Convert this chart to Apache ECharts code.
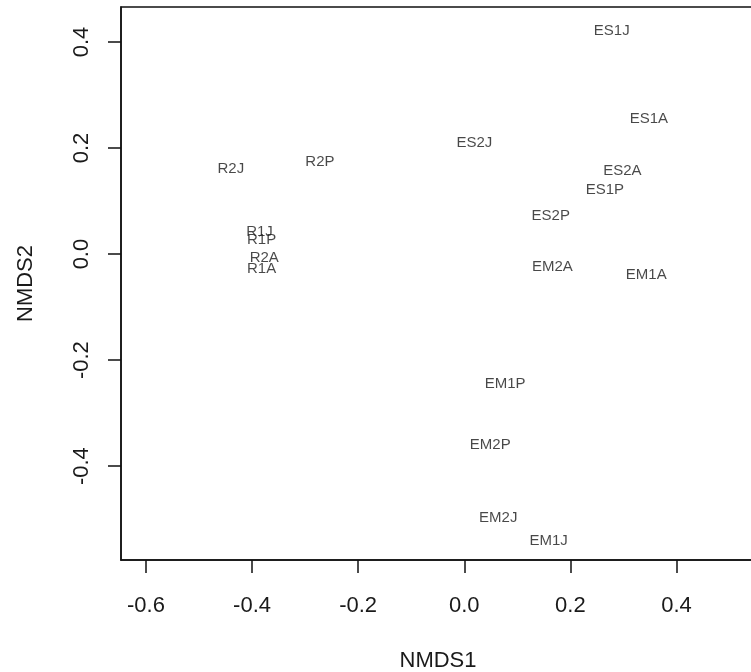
<!DOCTYPE html>
<html>
<head>
<meta charset="utf-8">
<script src="https://cdn.jsdelivr.net/npm/echarts@6/dist/echarts.min.js"></script>
<style>
  html, body { margin: 0; padding: 0; background: #fff; }
  #chart { width: 751px; height: 672px; }
</style>
</head>
<body>
<div id="chart"></div>
<script>
// site labels and their NMDS scores
const sites = ['ES1J', 'ES1A', 'ES2J', 'ES2A', 'ES1P', 'ES2P', 'EM2A', 'EM1A',
  'EM1P', 'EM2P', 'EM2J', 'EM1J', 'R2J', 'R2P', 'R1J', 'R1P', 'R2A', 'R1A'];
const nmds1 = [0.278, 0.348, 0.019, 0.298, 0.265, 0.163, 0.166, 0.343,
  0.077, 0.049, 0.064, 0.159, -0.440, -0.272, -0.386, -0.382, -0.377, -0.382];
const nmds2 = [0.421, 0.255, 0.210, 0.157, 0.121, 0.072, -0.024, -0.040,
  -0.244, -0.359, -0.498, -0.541, 0.160, 0.173, 0.041, 0.026, -0.007, -0.027];
const xTicks = [-0.6, -0.4, -0.2, 0.0, 0.2, 0.4];
const yTicks = [-0.4, -0.2, 0.0, 0.2, 0.4];

const points = sites.map((s, i) => [nmds1[i], nmds2[i], s]);

const chart = echarts.init(document.getElementById('chart'));
const font = 'Liberation Sans, Arial, sans-serif';
const ink = '#1a1a1a';

chart.setOption({
  animation: false,
  backgroundColor: '#fff',
  grid: {
    left: 121,
    top: 7,
    width: 634,
    height: 553,
    outerBoundsMode: 'none',
    show: true,
    borderColor: '#111',
    borderWidth: 1.5
  },
  xAxis: {
    type: 'value',
    min: -0.647,
    max: 0.548,
    name: 'NMDS1',
    nameLocation: 'middle',
    nameGap: 90,
    nameTextStyle: { fontFamily: font, fontSize: 22, color: ink },
    axisLine: { show: true, onZero: false, lineStyle: { color: '#111', width: 1.5 } },
    axisTick: { show: true, inside: false, length: 13, customValues: xTicks, lineStyle: { color: '#111', width: 1.5 } },
    axisLabel: {
      customValues: xTicks,
      margin: 35,
      fontFamily: font,
      fontSize: 22,
      color: ink,
      formatter: v => v.toFixed(1)
    },
    splitLine: { show: false }
  },
  yAxis: {
    type: 'value',
    min: -0.577,
    max: 0.466,
    name: 'NMDS2',
    nameLocation: 'middle',
    nameGap: 84,
    nameTextStyle: { fontFamily: font, fontSize: 22, color: ink },
    axisLine: { show: true, onZero: false, lineStyle: { color: '#111', width: 1.5 } },
    axisTick: { show: true, inside: false, length: 13, customValues: yTicks, lineStyle: { color: '#111', width: 1.5 } },
    axisLabel: {
      customValues: yTicks,
      rotate: 90,
      margin: 28,
      fontFamily: font,
      fontSize: 22,
      color: ink,
      formatter: v => v.toFixed(1)
    },
    splitLine: { show: false }
  },
  series: [{
    type: 'scatter',
    symbolSize: 0,
    data: points,
    label: {
      show: true,
      position: 'inside',
      formatter: p => p.data[2],
      fontFamily: font,
      fontSize: 15,
      color: ink
    }
  }]
});
</script>
</body>
</html>
